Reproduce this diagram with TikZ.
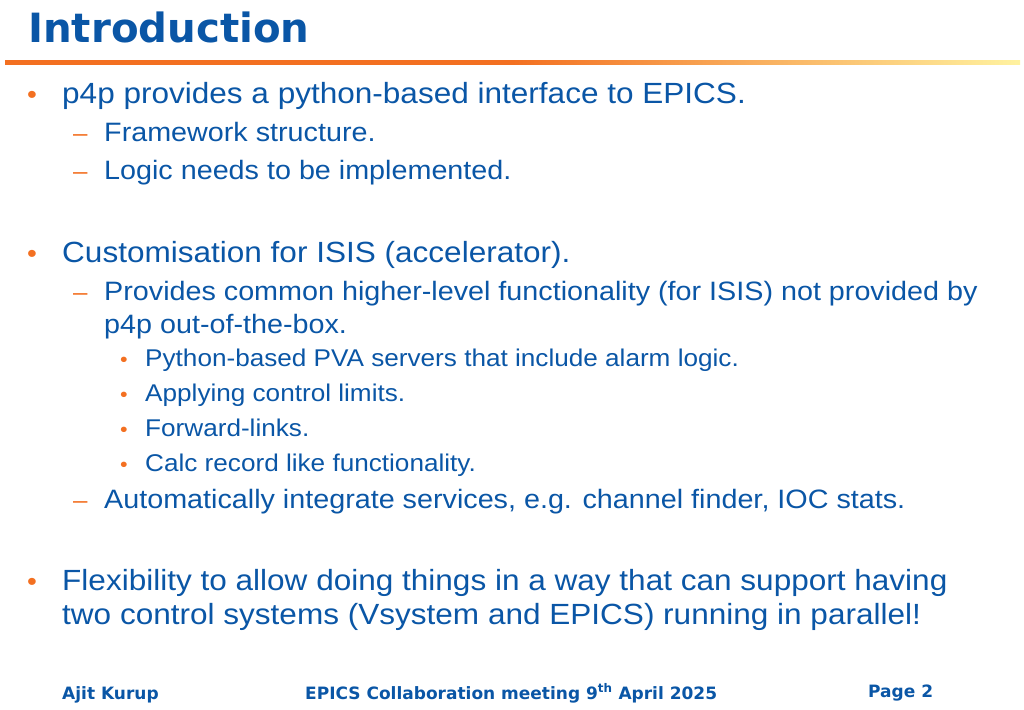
\documentclass[tikz,border=0pt]{standalone}
\usepackage{fontspec}
\setmainfont[FakeStretch=1.08]{Liberation Sans}
\newfontfamily\headfont{DejaVu Sans}
\definecolor{slideblue}{HTML}{0A56A6}
\definecolor{slideorange}{HTML}{F37021}
\definecolor{slideyellow}{HTML}{FFF2A0}
\tikzset{
  txt/.style={anchor=base west, inner sep=0pt, text=slideblue},
  lone/.style={txt, font=\fontsize{29.2}{34}\selectfont},
  ltwo/.style={txt, font=\fontsize{26.6}{30}\selectfont},
  lthree/.style={txt, font=\fontsize{24.2}{25}\selectfont},
  bulletmark/.style={anchor=base west, inner sep=0pt, text=slideorange}
}
\begin{document}
\begin{tikzpicture}[x=1pt, y=-1pt]
  \useasboundingbox (0,0) rectangle (1024,709);
  % Title
  \node[txt, font=\headfont\bfseries\fontsize{40.3}{44}\selectfont] (title) at (28,43) {Introduction};
  \shade[left color=slideorange, right color=slideyellow, middle color=slideorange]
        (5,60) rectangle (1020,64);

  % Level one
  \node[bulletmark, font=\fontsize{26}{26}\selectfont] (b1) at (27,103) {•};
  \node[lone] (t1) at (62,103) {p4p provides a python-based interface to EPICS.};
  \node[bulletmark, font=\fontsize{26}{26}\selectfont] (b2) at (27,262) {•};
  \node[lone] (t2) at (62,262) {Customisation for ISIS (accelerator).};
  \node[bulletmark, font=\fontsize{26}{26}\selectfont] (b3) at (27,590) {•};
  \node[lone] (t3) at (62,590) {Flexibility to allow doing things in a way that can support having};
  \node[lone] (t3b) at (62,624) {two control systems (Vsystem and EPICS) running in parallel!};

  % Level two
  \foreach \y/\s [count=\k] in {141/Framework structure., 179/Logic needs to be implemented.,
      300/Provides common higher-level functionality (for ISIS) not provided by,
      508/{Automatically integrate services, e.g. channel finder, IOC stats.}} {
    \node[bulletmark, font=\fontsize{24}{30}\selectfont] (d\k) at (73,\y) {–};
    \node[ltwo] (s\k) at (104,\y) {\s};
  }
  \node[ltwo] (s3b) at (104,333) {p4p out-of-the-box.};

  % Level three
  \foreach \y/\s [count=\k] in {366/Python-based PVA servers that include alarm logic.,
      401/Applying control limits., 436/Forward-links., 471/Calc record like functionality.} {
    \node[bulletmark, font=\fontsize{20}{20}\selectfont] (c\k) at (120,\y) {•};
    \node[lthree] (r\k) at (145,\y) {\s};
  }

  % Footer
  \node[txt, font=\headfont\bfseries\fontsize{17}{18}\selectfont] (author) at (62,699) {Ajit Kurup};
  \node[txt, font=\headfont\bfseries\fontsize{17}{18}\selectfont] (meeting) at (305,699)
       {EPICS Collaboration meeting 9\textsuperscript{th} April 2025};
  \node[txt, font=\headfont\bfseries\fontsize{17}{18}\selectfont] (page) at (868,697) {Page 2};
\end{tikzpicture}
\end{document}
